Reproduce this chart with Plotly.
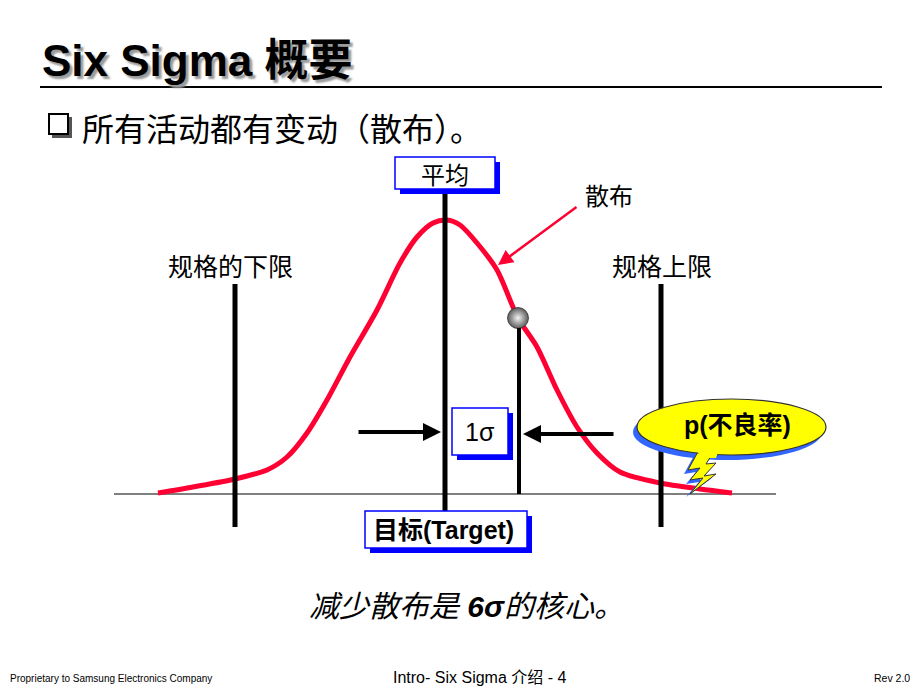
import plotly.graph_objects as go

# ---- data (in slide pixel units) ----
curve_x = [158, 193, 235, 267, 287, 307, 327, 350, 377, 400, 417, 433, 447,
           460, 477, 497, 518, 537, 557, 577, 597, 620, 660, 700, 732]
curve_y = [493, 487, 479, 470, 457, 433, 400, 357, 310, 263, 237, 223, 220,
           225, 243, 270, 318, 347, 390, 427, 453, 472, 483, 489, 493]

lsl_x, mean_x, sigma_x, usl_x = 235, 445, 519, 661
baseline_y = 494
ball = (518, 318)

title_text = "Six Sigma 概要"
bullet_text = "所有活动都有变动（散布）。"
lsl_label = "规格的下限"
usl_label = "规格上限"
mean_label = "平均"
spread_label = "散布"
target_label = "目标(Target)"
sigma_label = "1σ"
p_label = "p(不良率)"
bottom_text = "减少散布是 <b>6σ</b>的核心。"
footer_left = "Proprietary to Samsung Electronics Company"
footer_mid = "Intro- Six Sigma 介绍 - 4"
footer_right = "Rev 2.0"

FONT = "Arial, 'Liberation Sans', 'Noto Sans CJK SC', sans-serif"
CJK = "'Noto Sans CJK SC', 'Liberation Sans', sans-serif"

fig = go.Figure()

# curve
fig.add_trace(go.Scatter(x=curve_x, y=curve_y, mode="lines",
                         line=dict(color="#ff0033", width=5, shape="spline", smoothing=0.8),
                         hoverinfo="skip"))
# ball
fig.add_trace(go.Scatter(x=[ball[0]], y=[ball[1]], mode="markers",
                         marker=dict(size=21, color="#5a5a5a",
                                     gradient=dict(type="radial", color="#f4f4f4"),
                                     line=dict(width=0.8, color="#333333")),
                         hoverinfo="skip"))

shapes = []
# baseline
shapes.append(dict(type="line", x0=114, x1=776, y0=baseline_y, y1=baseline_y,
                   line=dict(color="black", width=1.2), layer="below"))
# vertical lines
shapes.append(dict(type="line", x0=lsl_x, x1=lsl_x, y0=284, y1=527, line=dict(color="black", width=5)))
shapes.append(dict(type="line", x0=usl_x, x1=usl_x, y0=284, y1=527, line=dict(color="black", width=5)))
shapes.append(dict(type="line", x0=mean_x, x1=mean_x, y0=188, y1=512, line=dict(color="black", width=5)))
shapes.append(dict(type="line", x0=sigma_x, x1=sigma_x, y0=328, y1=494, line=dict(color="black", width=4)))
# title underline
shapes.append(dict(type="line", x0=40, x1=882, y0=87, y1=87, line=dict(color="black", width=2)))


def box(x0, y0, x1, y1):
    shapes.append(dict(type="rect", x0=x0 + 5, x1=x1 + 5, y0=y0 + 5, y1=y1 + 5,
                       fillcolor="#0000ff", line=dict(width=0)))
    shapes.append(dict(type="rect", x0=x0, x1=x1, y0=y0, y1=y1,
                       fillcolor="white", line=dict(color="#0000ff", width=1.5)))


box(395, 157, 495, 189)
box(452, 408, 508, 455)
box(365, 511, 527, 548)

# speech bubble shadow + tail
bx0, bx1, by0, by1 = 637, 826, 399, 455
tail = "M 700 448 L 688 470 L 700 468 L 690 480 L 703 478 L 690 494 L 716 474 L 704 476 L 716 463 L 706 464 L 716 448 Z"
shapes.append(dict(type="circle", x0=bx0 - 4, x1=bx1 - 4, y0=by0 + 5, y1=by1 + 5,
                   fillcolor="#3366ff", line=dict(width=0)))
shapes.append(dict(type="path", path="M 696 452 L 684 474 L 696 472 L 686 484 L 699 482 L 686 497 L 712 478 L 700 480 L 712 467 L 702 468 L 712 452 Z",
                   fillcolor="#3366ff", line=dict(width=0)))
shapes.append(dict(type="path", path=tail, fillcolor="#ffff00", line=dict(color="#333333", width=1)))
shapes.append(dict(type="circle", x0=bx0, x1=bx1, y0=by0, y1=by1,
                   fillcolor="#ffff00", line=dict(color="#333333", width=1.2)))
shapes.append(dict(type="path", path="M 698 452 L 718 452 L 716 458 L 700 458 Z",
                   fillcolor="#ffff00", line=dict(width=0)))
# checkbox bullet
shapes.append(dict(type="rect", x0=52, x1=72, y0=117, y1=138, fillcolor="#555555", line=dict(width=0)))
shapes.append(dict(type="rect", x0=49, x1=68, y0=114, y1=134, fillcolor="white", line=dict(color="black", width=2)))

ann = []


def txt(x, y, s, size, color="black", xanchor="center", family=FONT, bold=False, italic=False, shadow=None):
    t = s
    if bold:
        t = "<b>" + t + "</b>"
    if italic:
        t = "<i>" + t + "</i>"
    f = dict(size=size, color=color, family=family)
    if shadow:
        f["shadow"] = shadow
    ann.append(dict(x=x, y=y, text=t, showarrow=False, xanchor=xanchor, yanchor="middle", font=f))


# title with shadow
txt(40, 60, title_text, 44, xanchor="left", bold=True, shadow="3px 3px 2px #9a9a9a")
txt(80, 127, bullet_text, 32, xanchor="left", family=CJK)
txt(230, 265, lsl_label, 25, family=CJK)
txt(662, 265, usl_label, 25, family=CJK)
txt(445, 173, mean_label, 24, family=CJK)
txt(609, 194, spread_label, 24, family=CJK)
txt(480, 432, sigma_label, 25)
txt(443, 530, target_label, 25, bold=True)
txt(737, 425, p_label, 25, bold=True)
txt(466, 606, bottom_text, 30, italic=True)
txt(8, 678, footer_left, 10, xanchor="left")
txt(479, 677, footer_mid, 16)
txt(912, 678, footer_right, 10.5, xanchor="right")

# arrows
ann.append(dict(x=498, y=265, ax=578, ay=206, xref="x", yref="y", axref="x", ayref="y",
                showarrow=True, arrowhead=2, arrowsize=1.2, arrowwidth=2.5, arrowcolor="#ff0033", text=""))
ann.append(dict(x=441, y=432, ax=357, ay=432, xref="x", yref="y", axref="x", ayref="y",
                showarrow=True, arrowhead=2, arrowsize=0.9, arrowwidth=4, arrowcolor="black", text=""))
ann.append(dict(x=523, y=434, ax=615, ay=434, xref="x", yref="y", axref="x", ayref="y",
                showarrow=True, arrowhead=2, arrowsize=0.9, arrowwidth=4, arrowcolor="black", text=""))

fig.update_layout(
    width=920, height=690, margin=dict(l=0, r=0, t=0, b=0),
    paper_bgcolor="white", plot_bgcolor="white", showlegend=False,
    xaxis=dict(range=[0, 920], visible=False, fixedrange=True),
    yaxis=dict(range=[690, 0], visible=False, fixedrange=True),
    shapes=shapes, annotations=ann,
)

fig.write_html("out.html")
